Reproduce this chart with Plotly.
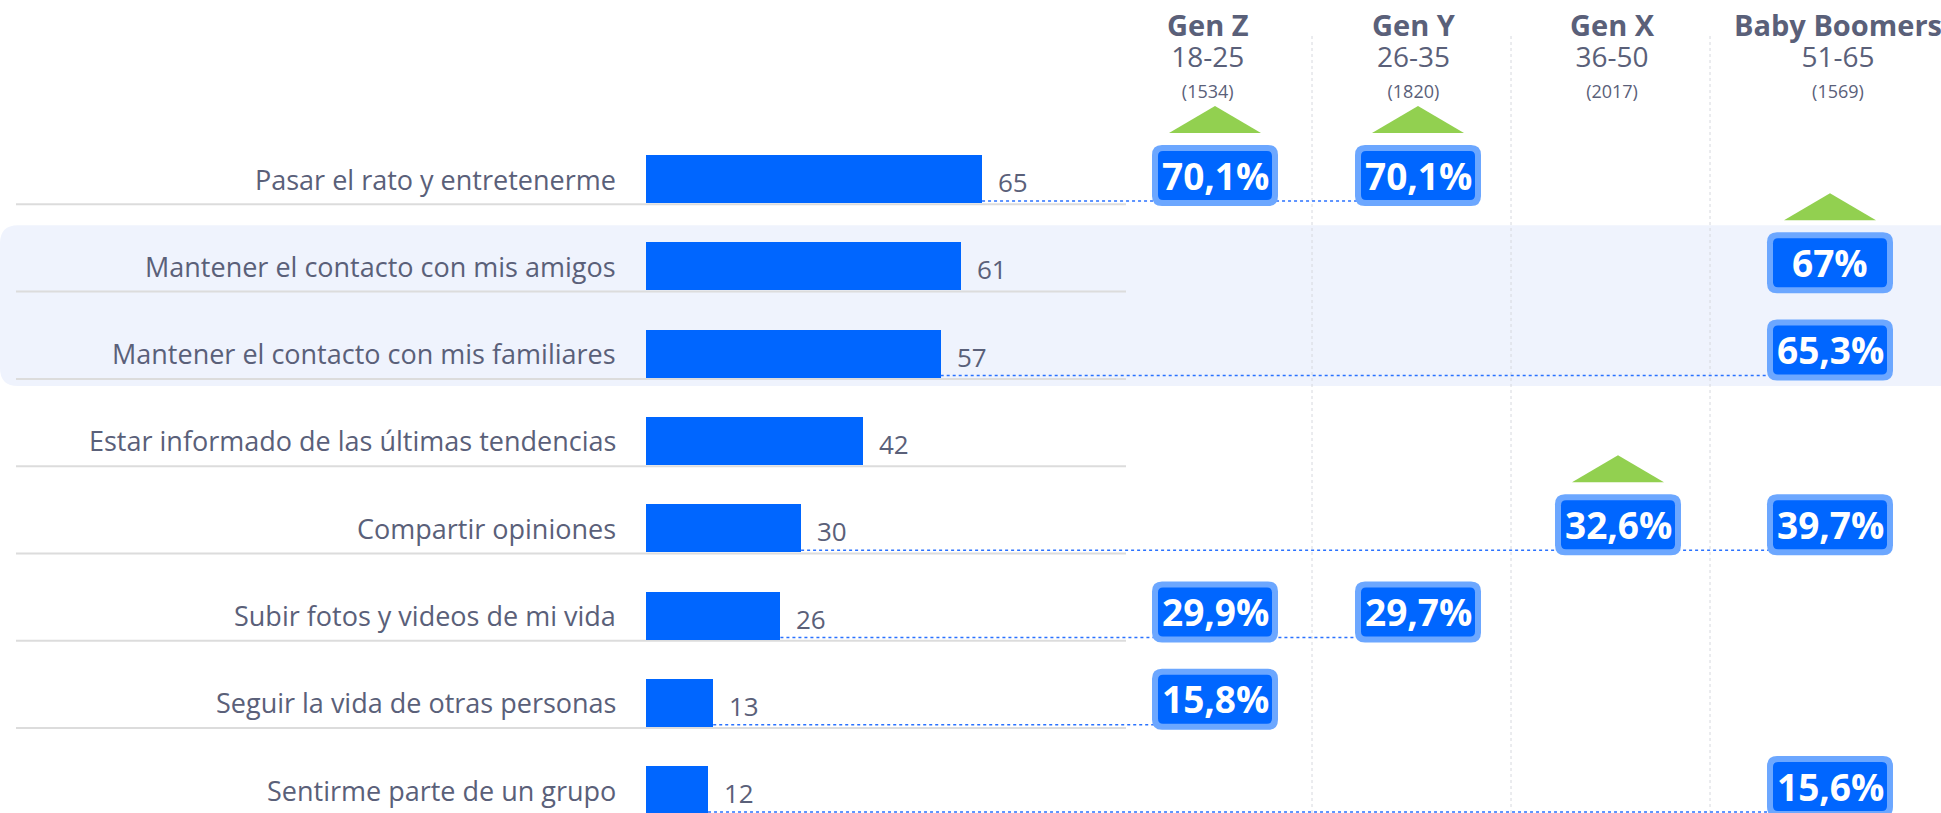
import plotly.graph_objects as go

# Data
categories = [
    "Pasar el rato y entretenerme",
    "Mantener el contacto con mis amigos",
    "Mantener el contacto con mis familiares",
    "Estar informado de las últimas tendencias",
    "Compartir opiniones",
    "Subir fotos y videos de mi vida",
    "Seguir la vida de otras personas",
    "Sentirme parte de un grupo",
]
totals = [65, 61, 57, 42, 30, 26, 13, 12]

generations = ["Gen Z", "Gen Y", "Gen X", "Baby Boomers"]
ages = ["18-25", "26-35", "36-50", "51-65"]
samples = ["(1534)", "(1820)", "(2017)", "(1569)"]

gen_z = [70.1, None, None, None, None, 29.9, 15.8, None]
gen_y = [70.1, None, None, None, None, 29.7, None, None]
gen_x = [None, None, None, None, 32.6, None, None, None]
boomers = [None, 67.0, 65.3, None, 39.7, None, None, 15.6]
gen_values = [gen_z, gen_y, gen_x, boomers]

# row of the green "up" marker for each generation
rise_rows = [0, 0, 4, 1]
# rows where a dotted connector runs from the bar to the badges
connectors = [True, False, True, False, True, True, True, True]
highlight_rows = [1, 2]

# Layout constants (pixels)
W, H = 1941, 813
BAR_X0 = 646
UNIT_PX = 5.17
ROW0 = 179
ROW_STEP = 87.3
COL_X = [1215, 1418, 1618, 1830]
HEAD_X = [1208, 1414, 1612, 1838]
COL_SEP = [1312, 1511, 1710]

TEXT = "#5a6079"
BLUE = "#0066ff"
LIGHT_BLUE = "#6ca7ff"
GREEN = "#92d050"
FONT = "Open Sans"

rows = list(range(len(categories)))


def rrect(x0, y0, x1, y1, r):
    return (f"M{x0 + r},{y0} L{x1 - r},{y0} Q{x1},{y0} {x1},{y0 + r} "
            f"L{x1},{y1 - r} Q{x1},{y1} {x1 - r},{y1} L{x0 + r},{y1} "
            f"Q{x0},{y1} {x0},{y1 - r} L{x0},{y0 + r} Q{x0},{y0} {x0 + r},{y0} Z")


def fmt(v):
    if float(v).is_integer():
        return f"{int(v)}%"
    return f"{v:.1f}".replace(".", ",") + "%"


fig = go.Figure()

fig.add_trace(go.Bar(
    x=totals,
    y=rows,
    orientation="h",
    width=48 / ROW_STEP,
    marker=dict(color=BLUE, line=dict(width=0)),
    hoverinfo="skip",
    showlegend=False,
))

shapes = []
annotations = []

# highlighted band behind rows 2-3
r = 18
top = highlight_rows[0] - 0.47
bot = highlight_rows[-1] + 0.37
rx = r / W
ry = r / ROW_STEP
shapes.append(dict(
    type="path", xref="paper", yref="y", layer="below", line=dict(width=0),
    fillcolor="#eff3fd",
    path=(f"M{rx},{top} L1.01,{top} L1.01,{bot} L{rx},{bot} "
          f"Q0,{bot} 0,{bot - ry} L0,{top + ry} Q0,{top} {rx},{top} Z"),
))

# row separators
for i in rows:
    shapes.append(dict(
        type="line", xref="paper", yref="y", layer="below",
        x0=16 / W, x1=1126 / W, y0=i + 0.29, y1=i + 0.29,
        line=dict(color="#dcdcdc", width=2),
    ))

# column separators
for sx in COL_SEP:
    shapes.append(dict(
        type="line", xref="paper", yref="paper", layer="below",
        x0=sx / W, x1=sx / W, y0=0, y1=1 - 33 / H,
        line=dict(color="#d6d8de", width=1, dash="dot"),
    ))

# dotted connectors from bar end to last badge in the row
x_min = -BAR_X0 / UNIT_PX
x_max = (W - BAR_X0) / UNIT_PX
for i in rows:
    if not connectors[i]:
        continue
    last = max(c for c in range(len(generations)) if gen_values[c][i] is not None)
    end_x = (COL_X[last] + 56 - BAR_X0) / UNIT_PX
    shapes.append(dict(
        type="line", xref="x", yref="y", layer="above",
        x0=totals[i], x1=end_x, y0=i + 0.252, y1=i + 0.252,
        line=dict(color="#2a72ff", width=1.5, dash="dot"),
    ))

# badges and up markers
for c, vals in enumerate(gen_values):
    cx = COL_X[c] / W
    for i in rows:
        v = vals[i]
        if v is None:
            continue
        shapes.append(dict(
            type="path", xref="paper", yref="y", layer="above",
            xsizemode="pixel", ysizemode="pixel", xanchor=cx, yanchor=i,
            path=rrect(-63, -27, 63, 34, 10),
            fillcolor=LIGHT_BLUE, line=dict(width=0),
        ))
        shapes.append(dict(
            type="path", xref="paper", yref="y", layer="above",
            xsizemode="pixel", ysizemode="pixel", xanchor=cx, yanchor=i,
            path=rrect(-57, -21, 57, 28, 5),
            fillcolor=BLUE, line=dict(width=0),
        ))
        annotations.append(dict(
            xref="paper", yref="y", x=cx, y=i, yshift=4,
            text=fmt(v), showarrow=False,
            font=dict(family=FONT, size=37, color="white", weight="bold"),
            xanchor="center", yanchor="middle",
        ))
    tri_row = rise_rows[c]
    shapes.append(dict(
        type="path", xref="paper", yref="y", layer="above",
        xsizemode="pixel", ysizemode="pixel", xanchor=cx, yanchor=tri_row,
        path="M-46,46 L46,46 L0,73 Z",
        fillcolor=GREEN, line=dict(width=0),
    ))

# category labels and values
for i in rows:
    annotations.append(dict(
        xref="x", yref="y", x=0, y=i, xshift=-28,
        text=categories[i], showarrow=False,
        font=dict(family=FONT, size=27, color=TEXT),
        xanchor="right", yanchor="middle",
    ))
    annotations.append(dict(
        xref="x", yref="y", x=totals[i], y=i, xshift=14, yshift=-3,
        text=str(totals[i]), showarrow=False,
        font=dict(family=FONT, size=26, color=TEXT),
        xanchor="left", yanchor="middle",
    ))

# column headers: name / age range / sample size in one block
for c, name in enumerate(generations):
    hx = HEAD_X[c] / W
    annotations.append(dict(
        xref="paper", yref="paper", x=hx, y=1 - 54 / H,
        text=(f"<b style='font-size:29px'>{name}</b><br>"
              f"<span style='font-size:28px'>{ages[c]}</span><br>"
              f"<span style='font-size:18px'>{samples[c]}</span>"),
        showarrow=False, xanchor="center", yanchor="middle",
        font=dict(family=FONT, size=24, color=TEXT),
    ))

fig.update_layout(
    width=W, height=H,
    margin=dict(l=0, r=0, t=0, b=0),
    paper_bgcolor="white", plot_bgcolor="rgba(0,0,0,0)",
    xaxis=dict(range=[x_min, x_max], domain=[0, 1], visible=False, fixedrange=True),
    yaxis=dict(range=[(H - ROW0) / ROW_STEP, -ROW0 / ROW_STEP], domain=[0, 1],
               visible=False, fixedrange=True),
    shapes=shapes,
    annotations=annotations,
    bargap=0,
)

fig.write_html(
    "out.html",
    config={"displayModeBar": False},
    post_script="document.body.style.margin='0';document.body.style.overflow='hidden';",
)
